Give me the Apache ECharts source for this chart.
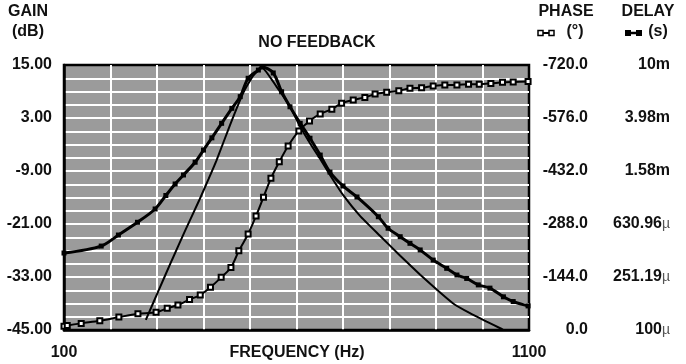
<!DOCTYPE html>
<html>
<head>
<meta charset="utf-8">
<script src="https://cdn.jsdelivr.net/npm/echarts@6/dist/echarts.min.js"></script>
<style>
html,body{margin:0;padding:0;background:#fff;}
#c{width:686px;height:364px;}
</style>
</head>
<body>
<div id="c"></div>
<script>
// ---- data ----
const xTickLabels = [100, 1100];
const gainFreq = [276, 304, 332, 361, 390, 411, 428, 457, 486, 507, 526, 557, 586, 608, 629, 651, 672, 700, 737, 780, 823, 866, 902, 937, 973, 1009, 1038, 1048];
const gainDb   = [-42.7, -35.9, -29.2, -22.4, -15.8, -10.8, -6.6, 1.4, 8.8, 12.6, 14.4, 10.1, 5.6, 1.0, -2.7, -6.3, -9.9, -14.4, -19.2, -23.7, -28.2, -32.5, -35.9, -39.0, -41.2, -43.1, -44.6, -45.2];
const phaseFreq = [100, 107, 137, 177, 218, 259, 298, 322, 345, 370, 393, 415, 438, 459, 476, 496, 513, 529, 545, 563, 582, 605, 628, 651, 676, 697, 722, 747, 769, 794, 820, 844, 869, 894, 919, 945, 970, 993, 1018, 1043, 1066, 1098];
const phaseDeg  = [-10, -12, -18, -25, -35, -44, -48, -59, -68, -83, -95, -116, -143, -170, -215, -261, -310, -361, -412, -457, -500, -541, -568, -587, -600, -616, -625, -632, -641, -646, -650, -657, -658, -663, -666, -666, -668, -668, -670, -673, -674, -675];
const delayFreq = [100, 180, 217, 258, 296, 319, 339, 357, 382, 400, 418, 439, 461, 479, 496, 518, 526, 550, 568, 586, 608, 629, 651, 672, 700, 730, 776, 797, 823, 844, 866, 894, 923, 945, 966, 991, 1016, 1045, 1066, 1098];
const delayMs   = [0.381, 0.430, 0.521, 0.650, 0.819, 1.035, 1.265, 1.479, 1.846, 2.28, 2.82, 3.63, 4.71, 5.77, 7.94, 9.16, 9.66, 8.71, 6.28, 4.84, 3.63, 2.80, 2.09, 1.556, 1.222, 1.009, 0.716, 0.586, 0.506, 0.451, 0.402, 0.337, 0.292, 0.260, 0.245, 0.219, 0.207, 0.178, 0.164, 0.152];
const gainTicks = [15, 3, -9, -21, -33, -45];
const phaseTicks = [-720, -576, -432, -288, -144, 0];

const FONT = "'Liberation Sans', Arial, Helvetica, sans-serif";
const chart = echarts.init(document.getElementById('c'), null, {renderer: 'canvas'});

function pairs(xs, ys, f) { return xs.map((x, i) => [x, f ? f(ys[i]) : ys[i]]); }
function trim00(s) { return s.replace(/\.00$/, ''); }
function fmtDelay(v) {
  const s = Math.pow(10, v);
  if (s < 0.999e-3) return '{n|' + trim00((s * 1e6).toFixed(2)) + '}{u|µ}';
  return '{n|' + trim00((s * 1e3).toFixed(2)) + 'm}';
}
const txt = (text, x, y, size) => ({
  type: 'text', x: x, y: y,
  style: {text: text, fontFamily: FONT, fontWeight: 'bold', fontSize: size || 16, fill: '#111', align: 'center', verticalAlign: 'middle'}
});

const option = {
  backgroundColor: '#fff',
  animation: false,
  grid: {left: 64, right: 157, top: 65, bottom: 34, containLabel: false, outerBoundsMode: 'none',
    show: true, backgroundColor: '#9b9b9b', borderColor: '#000', borderWidth: 2.5},
  xAxis: {
    type: 'value', min: 100, max: 1100, interval: 100,
    axisLine: {show: true, onZero: false, lineStyle: {color: '#000', width: 2.5}},
    axisTick: {show: false},
    splitLine: {show: true, showMinLine: false, showMaxLine: false, lineStyle: {color: '#fff', width: 2}},
    axisLabel: {margin: 15, fontFamily: FONT, fontWeight: 'bold', fontSize: 16, color: '#111',
      showMinLabel: true, showMaxLabel: true,
      formatter: v => xTickLabels.indexOf(v) >= 0 ? String(v) : ''}
  },
  yAxis: [
    {
      type: 'value', min: -45, max: 15, interval: 3, position: 'left',
      axisLine: {show: true, onZero: false, lineStyle: {color: '#000', width: 2.5}},
      axisTick: {show: false},
      splitLine: {show: true, showMinLine: false, showMaxLine: false, lineStyle: {color: '#fff', width: 2}},
      axisLabel: {margin: 12, fontFamily: FONT, fontWeight: 'bold', fontSize: 16, color: '#111',
        showMinLabel: true, showMaxLabel: true,
        formatter: v => gainTicks.indexOf(v) >= 0 ? v.toFixed(2) : ''}
    },
    {
      type: 'value', min: -720, max: 0, interval: 144, inverse: true, position: 'right',
      axisLine: {show: false}, axisTick: {show: false}, splitLine: {show: false},
      axisLabel: {margin: 59, align: 'right', fontFamily: FONT, fontWeight: 'bold', fontSize: 16, color: '#111',
        showMinLabel: true, showMaxLabel: true,
        formatter: v => phaseTicks.indexOf(Math.round(v)) >= 0 ? v.toFixed(1) : ''}
    },
    {
      type: 'value', min: -4, max: -2, interval: 0.4, position: 'right',
      axisLine: {show: false}, axisTick: {show: false}, splitLine: {show: false},
      axisLabel: {margin: 141, align: 'right', color: '#111',
        showMinLabel: true, showMaxLabel: true,
        formatter: fmtDelay,
        rich: {
          n: {fontFamily: FONT, fontWeight: 'bold', fontSize: 16, color: '#111'},
          u: {fontFamily: FONT, fontWeight: 'normal', fontSize: 14, color: '#555'}
        }}
    }
  ],
  series: [
    {
      name: 'Phase', type: 'line', xAxisIndex: 0, yAxisIndex: 1,
      data: pairs(phaseFreq, phaseDeg),
      smooth: 0.3, symbol: 'emptyRect', symbolSize: 5,
      lineStyle: {color: '#000', width: 2},
      itemStyle: {color: '#000', borderWidth: 1.5},
      z: 3
    },
    {
      name: 'Delay', type: 'line', xAxisIndex: 0, yAxisIndex: 2,
      data: pairs(delayFreq, delayMs, v => Math.log10(v / 1000)),
      smooth: 0.3, symbol: 'rect', symbolSize: 5,
      lineStyle: {color: '#000', width: 3},
      itemStyle: {color: '#000'},
      z: 4
    },
    {
      name: 'Gain', type: 'line', xAxisIndex: 0, yAxisIndex: 0,
      data: pairs(gainFreq, gainDb),
      smooth: 0.15, symbol: 'none',
      lineStyle: {color: '#000', width: 2},
      z: 5
    }
  ],
  graphic: [
    txt('GAIN', 28, 12),
    txt('(dB)', 28, 32),
    txt('NO FEEDBACK', 317, 43),
    txt('PHASE', 566, 12),
    txt('(°)', 575, 32),
    txt('DELAY', 648, 12),
    txt('(s)', 658, 32),
    txt('FREQUENCY (Hz)', 297, 353),
    {type: 'line', shape: {x1: 540, y1: 33, x2: 553, y2: 33}, style: {stroke: '#000', lineWidth: 2}},
    {type: 'rect', shape: {x: 538, y: 30.5, width: 5, height: 5}, style: {fill: '#fff', stroke: '#000', lineWidth: 1.5}},
    {type: 'rect', shape: {x: 549, y: 30.5, width: 5, height: 5}, style: {fill: '#fff', stroke: '#000', lineWidth: 1.5}},
    {type: 'line', shape: {x1: 627, y1: 33, x2: 640, y2: 33}, style: {stroke: '#000', lineWidth: 2.5}},
    {type: 'rect', shape: {x: 625, y: 30, width: 6, height: 6}, style: {fill: '#000'}},
    {type: 'rect', shape: {x: 636, y: 30, width: 6, height: 6}, style: {fill: '#000'}}
  ]
};
chart.setOption(option);
</script>
</body>
</html>
